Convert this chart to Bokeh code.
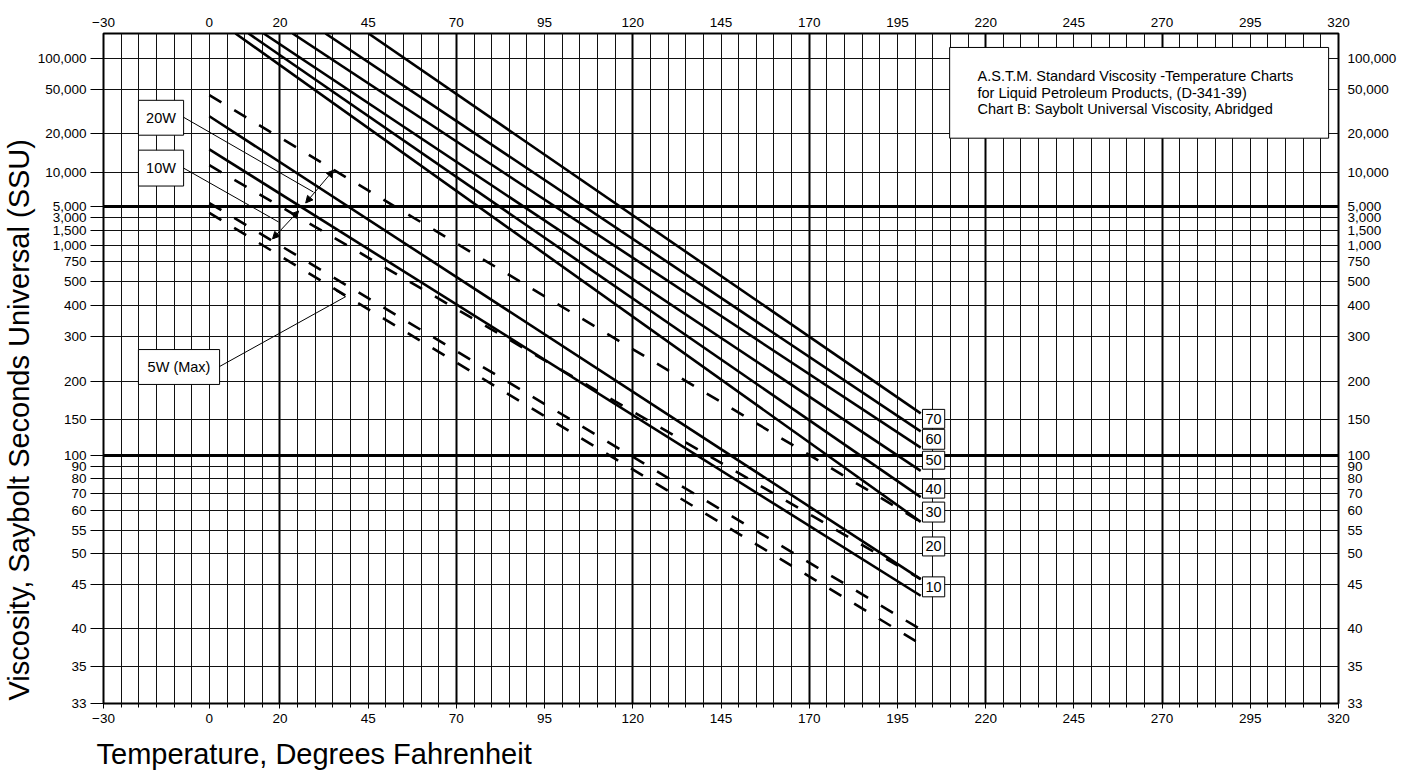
import numpy as np
from bokeh.plotting import figure
from bokeh.models import Range1d, LinearAxis, FixedTicker, Grid, Title, Arrow, NormalHead
from bokeh.core.properties import value
from bokeh.embed import file_html
from bokeh.resources import INLINE

FONT = "Liberation Sans"

# ---------------- axis definitions ----------------
TEMP_TICKS = [-30, 0, 20, 45, 70, 95, 120, 145, 170, 195, 220, 245, 270, 295, 320]
TEMP_GRID = list(range(-30, 325, 5))
TEMP_GRID_BOLD = [-30, 20, 70, 120, 170, 220, 270, 320]

SSU_TICKS = [33, 35, 40, 45, 50, 55, 60, 70, 80, 90, 100, 150, 200, 300, 400, 500,
             750, 1000, 1500, 3000, 5000, 10000, 20000, 50000, 100000]
SSU_LABELS = ["33", "35", "40", "45", "50", "55", "60", "70", "80", "90", "100", "150",
              "200", "300", "400", "500", "750", "1,000", "1,500", "3,000", "5,000",
              "10,000", "20,000", "50,000", "100,000"]
SSU_BOLD = [100, 5000]
# abridged chart: height (px above the 33 line) at which each SSU gridline is drawn
SSU_TICK_POS = [0, 37, 75, 119, 150, 174, 194, 211, 226, 238, 249, 285, 323, 368, 399, 423,
                443, 459, 474, 487, 498, 533, 572, 616, 647]
SCALE_TOP_SSU = 175000
SCALE_TOP_POS = 672

_LOG = np.log10(SSU_TICKS + [SCALE_TOP_SSU])
_POS = np.array(SSU_TICK_POS + [SCALE_TOP_POS], dtype=float)


def ssu_pos(v):
    return np.interp(np.log10(np.asarray(v, dtype=float)), _LOG, _POS)


# ---------------- data: SAE grade lines (temperature F, SSU) ----------------
sae70_t = [45.1, 201.6]
sae70_v = [175000, 157]
sae60_t = [32.9, 201.6]
sae60_v = [175000, 131]
sae50_t = [23.6, 201.6]
sae50_v = [175000, 109]
sae40_t = [15.4, 201.6]
sae40_v = [175000, 86]
sae30_t = [11.1, 201.6]
sae30_v = [175000, 67.5]
sae20_t = [7.4, 201.6]
sae20_v = [175000, 57]
sae10_t = [0.0, 201.6]
sae10_v = [28500, 45.9]
sae5_t = [0.0, 201.6]
sae5_v = [15000, 43.7]

w20_t = [0.0, 201.6]
w20_v = [44200, 57]
w10_t = [0.0, 201.6]
w10_v = [11300, 45.9]
w5a_t = [0.0, 201.6]
w5a_v = [5410, 39.9]
w5b_t = [0.0, 201.6]
w5b_v = [3790, 37.9]

SOLID = [(sae70_t, sae70_v), (sae60_t, sae60_v), (sae50_t, sae50_v), (sae40_t, sae40_v),
         (sae30_t, sae30_v), (sae20_t, sae20_v), (sae10_t, sae10_v), (sae5_t, sae5_v)]
DASHED = [(w20_t, w20_v), (w10_t, w10_v), (w5a_t, w5a_v), (w5b_t, w5b_v)]

GRADE_LABELS = ["70", "60", "50", "40", "30", "20", "10"]

# ---------------- figure ----------------
p = figure(width=1416, height=779, x_range=Range1d(-30, 320), y_range=Range1d(0, 672),
           output_backend="svg", toolbar_location=None,
           min_border_left=103, min_border_right=78, min_border_top=33, min_border_bottom=74)
p.outline_line_color = "black"
p.outline_line_width = 2
p.xgrid.grid_line_color = None
p.ygrid.grid_line_color = None
p.background_fill_color = "white"

ypos_ticks = [int(v) for v in SSU_TICK_POS]
overrides = {int(pos): lab for pos, lab in zip(SSU_TICK_POS, SSU_LABELS)}


def style_axis(ax):
    ax.axis_line_color = None
    ax.major_label_text_font = FONT
    ax.major_label_text_font_size = "13.5px"
    ax.major_label_text_color = "black"
    ax.major_tick_line_color = "black"
    ax.minor_tick_line_color = "black"
    ax.major_tick_in = 0
    ax.minor_tick_in = 0


xb = p.xaxis[0]
xb.ticker = FixedTicker(ticks=TEMP_TICKS, minor_ticks=TEMP_GRID)
style_axis(xb)
xb.major_tick_out = 5
xb.minor_tick_out = 4
xb.major_label_standoff = 5

xt = LinearAxis(ticker=FixedTicker(ticks=TEMP_TICKS))
style_axis(xt)
xt.major_tick_out = 0
xt.minor_tick_out = 0
xt.major_tick_line_color = None
xt.major_label_standoff = 7
p.add_layout(xt, "above")

yl = p.yaxis[0]
yl.ticker = FixedTicker(ticks=ypos_ticks)
yl.major_label_overrides = overrides
style_axis(yl)
yl.major_tick_out = 13
yl.minor_tick_out = 0
yl.major_label_standoff = 4

yr = LinearAxis(ticker=FixedTicker(ticks=ypos_ticks))
yr.major_label_overrides = overrides
style_axis(yr)
yr.major_tick_out = 0
yr.minor_tick_out = 0
yr.major_tick_line_color = None
yr.major_label_standoff = 9
p.add_layout(yr, "right")

# grids
p.add_layout(Grid(dimension=0, ticker=FixedTicker(ticks=TEMP_GRID), grid_line_color="#111111",
                  grid_line_width=1), "center")
p.add_layout(Grid(dimension=0, ticker=FixedTicker(ticks=TEMP_GRID_BOLD), grid_line_color="black",
                  grid_line_width=2), "center")
p.add_layout(Grid(dimension=1, ticker=FixedTicker(ticks=ypos_ticks), grid_line_color="#111111",
                  grid_line_width=1), "center")
bold_pos = [int(SSU_TICK_POS[SSU_TICKS.index(v)]) for v in SSU_BOLD]
p.add_layout(Grid(dimension=1, ticker=FixedTicker(ticks=bold_pos), grid_line_color="black",
                  grid_line_width=3), "center")

# data lines
for t, v in SOLID:
    p.line(t, ssu_pos(v), line_color="black", line_width=2.6)
for t, v in DASHED:
    p.line(t, ssu_pos(v), line_color="black", line_width=2.6, line_dash="14 15")

# ---------------- annotations (layout in chart coordinates) ----------------
p.quad(left=[209.8], right=[317.2], bottom=[567], top=[658], fill_color="white",
       line_color="black", line_width=1)
info = ["A.S.T.M. Standard Viscosity -Temperature Charts",
        "for Liquid Petroleum Products, (D-341-39)",
        "Chart B: Saybolt Universal Viscosity, Abridged"]
p.text(x=[217.7] * 3, y=[629, 612, 596], text=info, text_font=value(FONT),
       text_font_size="14.5px", text_align="left", text_baseline="middle", text_color="black")

p.quad(left=[-20.1, -20.1, -20.1], right=[-7.3, -7.3, 2.9], bottom=[570, 519, 320],
       top=[605, 555, 355], fill_color="white", line_color="black", line_width=1)
p.text(x=[-13.7, -13.7, -8.6], y=[587.5, 537, 337.5], text=["20W", "10W", "5W (Max)"],
       text_font=value(FONT), text_font_size="14.5px", text_align="center",
       text_baseline="middle", text_color="black")

p.line([-7.3, 29.5], [588, 513], line_color="black", line_width=1)
p.line([-7.3, 19.6], [537, 483], line_color="black", line_width=1)
p.line([2.9, 38.6, 35.8], [338, 408, 414], line_color="black", line_width=1)

for xs, ys, xe, ye in [(35.2, 535, 27.3, 502), (25.3, 494, 17.9, 466)]:
    p.add_layout(Arrow(start=NormalHead(size=7, fill_color="black", line_color="black"),
                       end=NormalHead(size=7, fill_color="black", line_color="black"),
                       x_start=xs, y_start=ys, x_end=xe, y_end=ye,
                       line_color="black", line_width=1))

g_bottom = [276, 255, 235, 206, 182, 148, 107]
g_top = [295, 275, 253, 225, 202, 167, 127]
p.quad(left=[202.1] * 7, right=[208.4] * 7, bottom=g_bottom, top=g_top,
       fill_color="white", line_color="black", line_width=1)
p.text(x=[205.25] * 7, y=[(a + b) / 2 for a, b in zip(g_bottom, g_top)], text=GRADE_LABELS,
       text_font=value(FONT), text_font_size="14.5px", text_align="center",
       text_baseline="middle", text_color="black")

# axis titles
p.add_layout(Title(text="Viscosity, Saybolt Seconds Universal (SSU)", align="left", offset=3,
                   standoff=0, text_font=FONT, text_font_size="29px", text_font_style="normal",
                   text_color="black"), "left")
p.add_layout(Title(text="Temperature, Degrees Fahrenheit", align="left", offset=-7,
                   standoff=20, text_font=FONT, text_font_size="29px", text_font_style="normal",
                   text_color="black"), "below")

open("out.html", "w").write(file_html(p, INLINE))
